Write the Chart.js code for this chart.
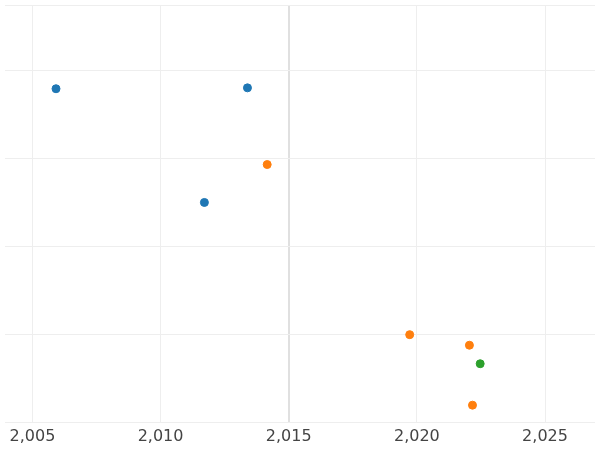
<!DOCTYPE html>
<html>
<head>
<script src="https://cdn.jsdelivr.net/npm/chart.js@4"></script>
<style>
  body { margin: 0; background: #fff; }
  #wrap { width: 600px; height: 450px; }
</style>
</head>
<body>
<div id="wrap"><canvas id="chart"></canvas></div>
<script>
// values
const blueX = [2005.92, 2013.39, 2011.71];
const blueY = [3.79, 3.80, 2.50];
const orangeX = [2014.16, 2019.72, 2022.05, 2022.17];
const orangeY = [2.93, 1.00, 0.88, 0.20];
const greenX = [2022.47];
const greenY = [0.67];
const xTicks = [2005, 2010, 2015, 2020, 2025];

function toPoints(xs, ys) {
    return xs.map((x, i) => ({ x: x, y: ys[i] }));
}

function makeSet(xs, ys, color) {
    return {
        data: toPoints(xs, ys),
        backgroundColor: color,
        borderColor: color,
        pointRadius: 4,
        pointHoverRadius: 4
    };
}

new Chart(document.getElementById("chart"), {
    type: "scatter",
    data: {
        datasets: [
            makeSet(blueX, blueY, "#1f77b4"),
            makeSet(orangeX, orangeY, "#ff7f0e"),
            makeSet(greenX, greenY, "#2ca02c")
        ]
    },
    options: {
        responsive: true,
        maintainAspectRatio: false,
        animation: false,
        layout: { padding: 0 },
        plugins: { legend: { display: false }, tooltip: { enabled: false } },
        scales: {
            x: {
                min: 2003.93,
                max: 2026.95,
                afterBuildTicks: axis => { axis.ticks = xTicks.map(v => ({ value: v })); },
                grid: {
                    color: ctx => ctx.tick && ctx.tick.value === 2015 ? "#e0e0e0" : "#eeeeee",
                    lineWidth: ctx => ctx.tick && ctx.tick.value === 2015 ? 2 : 1,
                    drawTicks: false
                },
                border: { display: false },
                ticks: { color: "#444", font: { family: "DejaVu Sans", size: 16 }, padding: 4 }
            },
            y: {
                min: 0,
                max: 4.74,
                ticks: { display: false, stepSize: 1 },
                grid: { color: "#eeeeee", drawTicks: false },
                border: { display: false }
            }
        }
    }
});
</script>
</body>
</html>
